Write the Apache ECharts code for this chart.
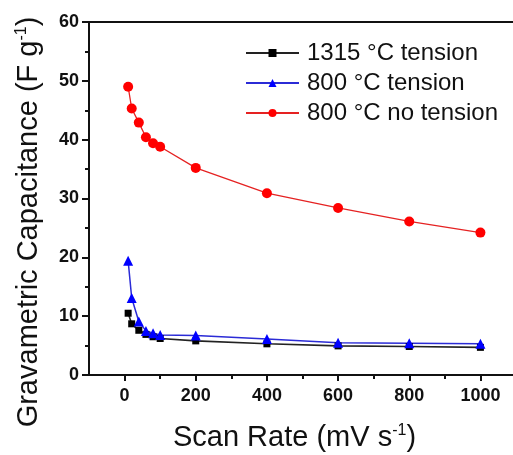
<!DOCTYPE html>
<html>
<head>
<meta charset="utf-8">
<script src="https://cdn.jsdelivr.net/npm/echarts@6/dist/echarts.min.js"></script>
<style>
  html, body { margin: 0; padding: 0; background: #fff; }
  #chart { width: 513px; height: 455px; }
</style>
</head>
<body>
<div id="chart"></div>
<script>
// Scan rates (mV/s) shared by all three samples
const scanRates = [10, 20, 40, 60, 80, 100, 200, 400, 600, 800, 1000];

// Gravimetric capacitance (F/g) per sample
const cap1315Tension   = [10.5, 8.7, 7.6, 6.9, 6.5, 6.2, 5.8, 5.3, 4.95, 4.85, 4.7];
const cap800Tension    = [19.4, 13.1, 9.1, 7.5, 7.1, 6.8, 6.7, 6.1, 5.5, 5.4, 5.3];
const cap800NoTension  = [49.0, 45.3, 42.9, 40.4, 39.4, 38.8, 35.2, 30.9, 28.4, 26.1, 24.2];

const seriesNames = ['1315 °C tension', '800 °C tension', '800 °C no tension'];

// Axis tick positions
const xMajorTicks = [0, 200, 400, 600, 800, 1000];
const xMinorTicks = [100, 300, 500, 700, 900];

const FONT = 'Liberation Sans, Arial, sans-serif';

function pairs(ys) {
  return scanRates.map((x, i) => [x, ys[i]]);
}

const chart = echarts.init(document.getElementById('chart'), null, { renderer: 'canvas' });

const axisLine = { show: true, onZero: false, lineStyle: { color: '#111', width: 2 } };

chart.setOption({
  animation: false,
  backgroundColor: '#fff',
  grid: {
    left: 89, top: 22, right: -3, bottom: 80,
    containLabel: false,
    outerBoundsMode: 'none'
  },
  legend: {
    orient: 'vertical',
    left: 240,
    top: 36,
    itemWidth: 53,
    itemHeight: 10,
    itemGap: 6,
    textStyle: { fontFamily: FONT, fontSize: 24, color: '#111', padding: [0, 0, 0, 3] },
    data: seriesNames
  },
  xAxis: [
    {
      type: 'value',
      position: 'bottom',
      min: -100,
      max: 1100,
      axisLine: axisLine,
      splitLine: { show: false },
      axisTick: { show: true, inside: false, length: 6, customValues: xMajorTicks,
                  lineStyle: { color: '#111', width: 2 } },
      axisLabel: { customValues: xMajorTicks, margin: 12, fontFamily: FONT, fontSize: 18,
                   fontWeight: 'bold', color: '#111', formatter: (v) => String(v) },
      name: '{n|Scan Rate (mV s}{s|-1}{n|)}',
      nameLocation: 'middle',
      nameGap: 48,
      nameMoveOverlap: false,
      nameTextStyle: {
        padding: [0, 16, 0, 0],
        rich: {
          n: { fontFamily: FONT, fontSize: 29, color: '#111' },
          s: { fontFamily: FONT, fontSize: 16, color: '#111', verticalAlign: 'top' }
        }
      }
    },
    {
      // short ticks between the labelled ones
      type: 'value',
      position: 'bottom',
      min: -100,
      max: 1100,
      axisLine: { show: false },
      splitLine: { show: false },
      axisTick: { show: true, inside: false, length: 4, customValues: xMinorTicks,
                  lineStyle: { color: '#111', width: 2 } },
      axisLabel: { show: false }
    },
    {
      // top frame line
      type: 'value',
      position: 'top',
      min: -100,
      max: 1100,
      axisLine: axisLine,
      splitLine: { show: false },
      axisTick: { show: false },
      axisLabel: { show: false }
    }
  ],
  yAxis: {
    type: 'value',
    min: 0,
    max: 60,
    interval: 10,
    axisLine: axisLine,
    splitLine: { show: false },
    axisTick: { show: true, inside: false, length: 7, lineStyle: { color: '#111', width: 2 } },
    minorTick: { show: true, splitNumber: 2, length: 4, lineStyle: { color: '#111', width: 2 } },
    minorSplitLine: { show: false },
    axisLabel: { margin: 10, fontFamily: FONT, fontSize: 18, fontWeight: 'bold', color: '#111' },
    name: '{n|Gravametric Capacitance (F g}{s|-1}{n|)}',
    nameLocation: 'middle',
    nameGap: 46,
    nameMoveOverlap: false,
    nameTextStyle: {
      padding: [0, 47, 0, 0],
      rich: {
        n: { fontFamily: FONT, fontSize: 29, color: '#111' },
        s: { fontFamily: FONT, fontSize: 16, color: '#111', verticalAlign: 'top' }
      }
    }
  },
  series: [
    {
      name: seriesNames[0],
      type: 'line',
      data: pairs(cap1315Tension),
      symbol: 'rect',
      symbolSize: 7,
      itemStyle: { color: '#000' },
      lineStyle: { color: '#222', width: 1.6 }
    },
    {
      name: seriesNames[1],
      type: 'line',
      data: pairs(cap800Tension),
      symbol: 'triangle',
      symbolSize: 10,
      itemStyle: { color: '#0000ff' },
      lineStyle: { color: '#2b2bd6', width: 1.5 }
    },
    {
      name: seriesNames[2],
      type: 'line',
      data: pairs(cap800NoTension),
      symbol: 'circle',
      symbolSize: 10,
      itemStyle: { color: '#ff0000' },
      lineStyle: { color: '#e52222', width: 1.3 }
    }
  ]
});
</script>
</body>
</html>
